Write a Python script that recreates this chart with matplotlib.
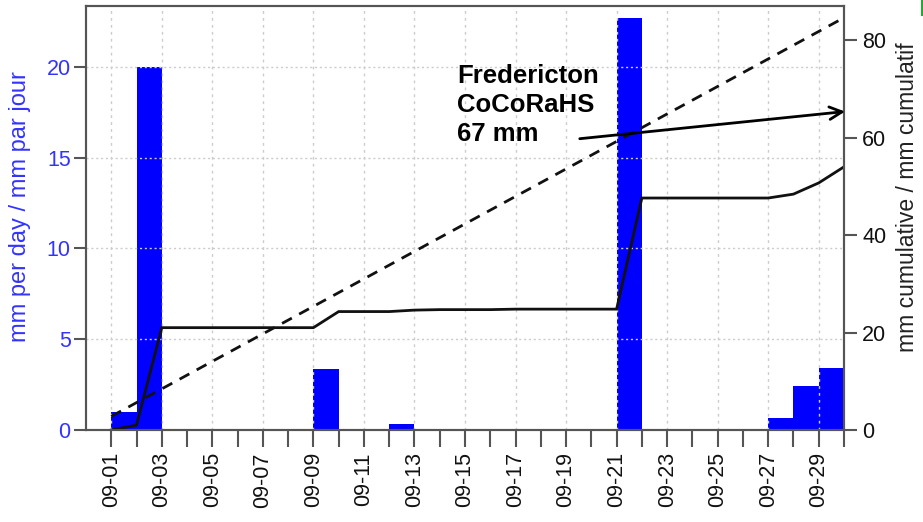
import matplotlib
matplotlib.use("Agg")
import matplotlib.pyplot as plt
import numpy as np
from matplotlib.lines import Line2D

plt.rcParams['font.family'] = ['Liberation Sans', 'DejaVu Sans']

# ---- data ----
days = list(range(1, 31))  # day of September
tick_labels = [f"09-{d:02d}" for d in days]
daily_mm = [1.0, 20.0, 0, 0, 0, 0, 0, 0, 3.35, 0,
            0, 0.33, 0, 0, 0, 0, 0, 0, 0, 0,
            22.7, 0, 0, 0, 0, 0, 0.66, 2.42, 3.42, 0]
cum_days = list(range(1, 31))
cum_mm = [0.0, 1.0, 21.0, 21.0, 21.0, 21.0, 21.0, 21.0, 21.0, 24.3,
          24.3, 24.3, 24.6, 24.7, 24.7, 24.7, 24.8, 24.8, 24.8, 24.8,
          24.8, 47.6, 47.6, 47.6, 47.6, 47.6, 47.6, 48.4, 50.7, 54.0]
normal_days = [1, 30]
normal_mm = [2.8, 84.6]
annot_text = "Fredericton\nCoCoRaHS\n67 mm"
annot_value = 65.4

W, H = 923, 522
fig = plt.figure(figsize=(W / 100, H / 100), dpi=100)
ax = fig.add_axes([86 / W, 1 - 430 / H, (844 - 86) / W, (430 - 6) / H])
ax2 = ax.twinx()

blue = '#0000ff'
spine_c = '#555555'

ax.bar(days[:-1], daily_mm[:-1], width=1.0, align='edge', color=blue, linewidth=0, zorder=1)
ax.set_xlim(0, 30)
ax.set_ylim(0, 23.36)
ax2.set_ylim(0, 87.0)

ax2.plot(cum_days, cum_mm, color='#111111', lw=2.0, solid_joinstyle='miter')
ax2.plot(normal_days, normal_mm, color='#111111', lw=2.0, ls=(0, (4, 3)))

# ticks
ax.set_xticks(days)
ax.set_xticklabels([lab if i % 2 == 0 else '' for i, lab in enumerate(tick_labels)],
                   rotation=90, fontsize=15.5, color='#111111')
ax.set_yticks([0, 5, 10, 15, 20])
ax.tick_params(axis='y', colors=spine_c, labelcolor='#3333ff', labelsize=15.5, length=9, width=1.5, pad=2)
ax.tick_params(axis='x', colors=spine_c, labelcolor='#111111', length=12, width=1.5, pad=4)
ax2.set_yticks([0, 20, 40, 60, 80])
ax2.tick_params(axis='y', colors=spine_c, labelcolor='#111111', labelsize=15.5, length=9, width=1.5, pad=4)

# grid
for d in days[::2]:
    ax.axvline(d, color='#cccccc', lw=1, ls=(0, (2, 3)), zorder=1.5)
for v in [5, 10, 15, 20]:
    ax.axhline(v, color='#cccccc', lw=1, ls=(0, (1.5, 2)), zorder=1.5)

for a in (ax, ax2):
    for s in a.spines.values():
        s.set_color(spine_c)
        s.set_linewidth(1.5)

ax.set_ylabel("mm per day / mm par jour", color='#3333ff', fontsize=17)
ax.yaxis.set_label_coords(-55 / (844 - 86), 0.526)
ax2.set_ylabel("mm cumulative / mm cumulatif", color='#222222', fontsize=16.5)
ax2.yaxis.set_label_coords(1 + 52 / (844 - 86), 0.55)

# annotation
ax2.text(457 / W, 1 - 64 / H, annot_text, transform=fig.transFigure,
         fontsize=18.5, fontweight='bold', va='top', ha='left', linespacing=1.27, color='black')
ax2.annotate('', xy=(30.15, annot_value), xycoords='data',
             xytext=(577 / W, 1 - 139 / H), textcoords='figure fraction',
             arrowprops=dict(arrowstyle='->,head_length=0.9,head_width=0.45', color='black', lw=2),
             annotation_clip=False)

# small green mark at top-right corner
fig.add_artist(Line2D([921.5 / W, 921.5 / W], [1.0, 1 - 15 / H], transform=fig.transFigure,
                      color='#22aa33', lw=1.5))

fig.savefig("out.png", dpi=100)
